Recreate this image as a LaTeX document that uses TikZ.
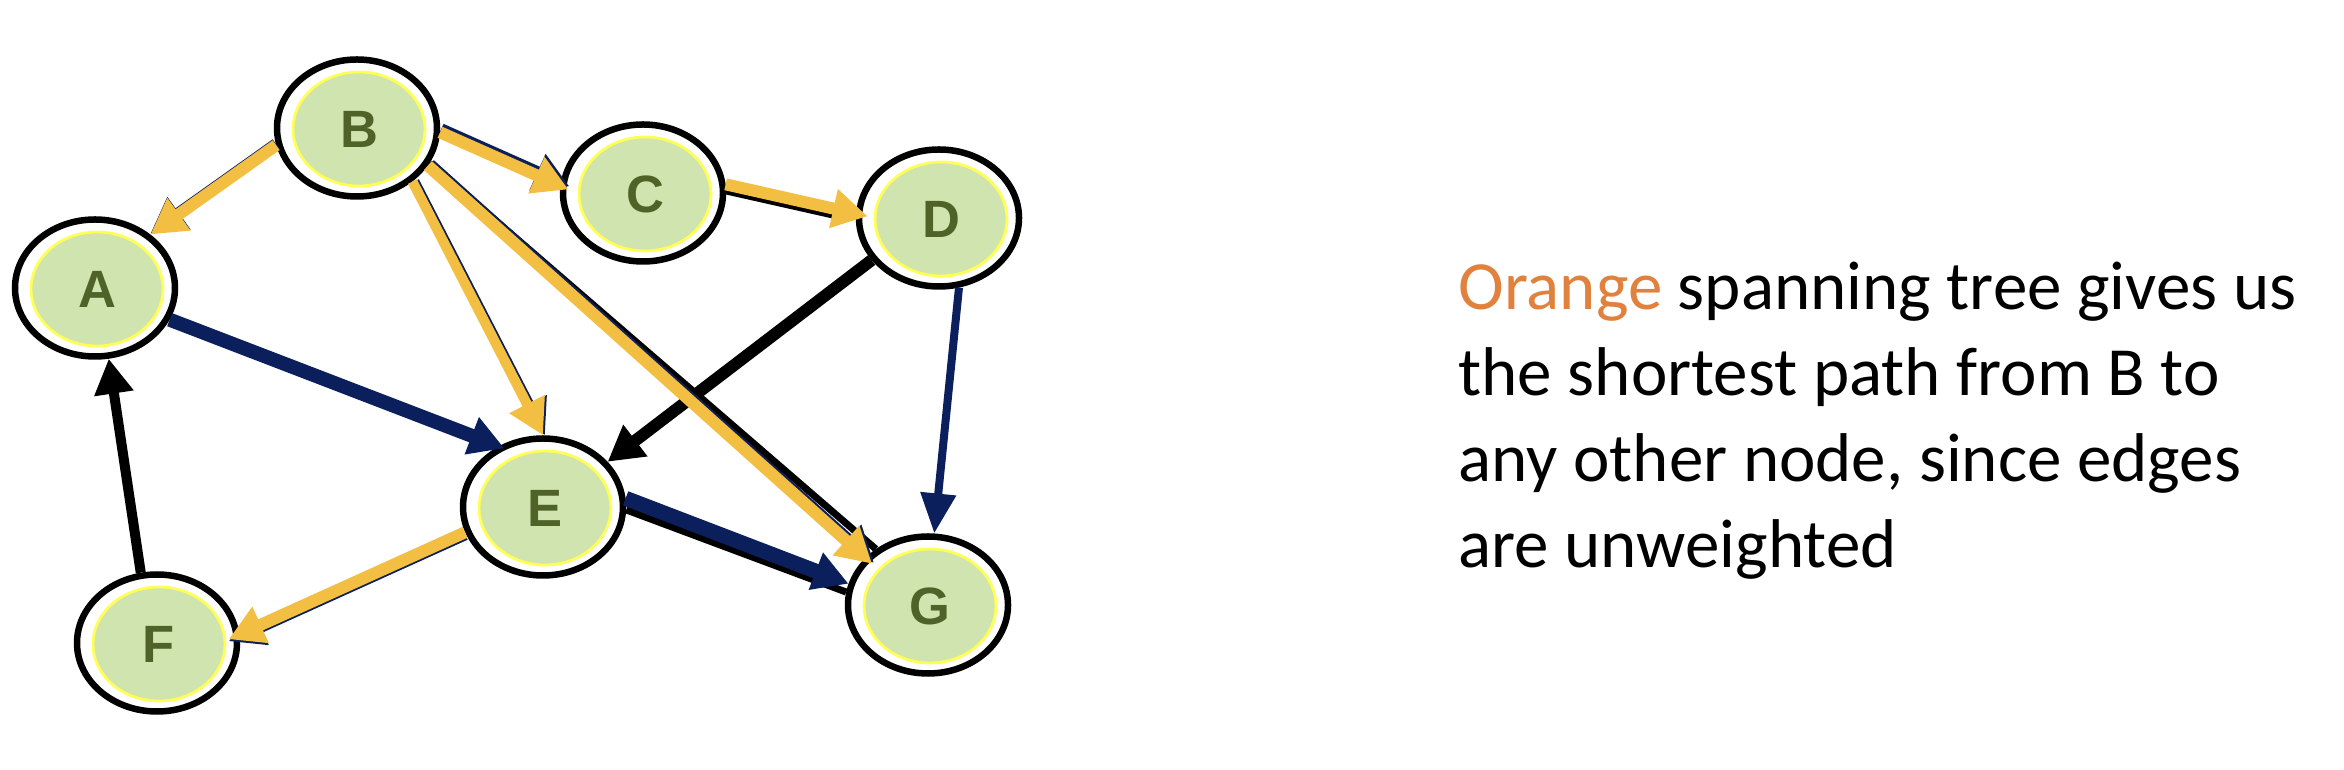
\documentclass[tikz,border=0pt]{standalone}
\usepackage{fontspec}
\setmainfont{Carlito}
\newfontfamily\labfont{Liberation Sans}
\usetikzlibrary{shapes.geometric,arrows.meta}
\definecolor{eorange}{HTML}{F3BF43}
\definecolor{enavy}{HTML}{0A1F5C}
\definecolor{nfill}{HTML}{CFE4AE}
\definecolor{nrim}{HTML}{FFFF55}
\definecolor{nlabel}{HTML}{4F6228}
\definecolor{torange}{HTML}{E0823E}
\begin{document}
\begin{tikzpicture}[x=0.4pt,y=-0.4pt,
  outer/.style={ellipse,draw=black,line width=2.6pt,fill=white,inner sep=0pt,minimum width=64pt,minimum height=54.8pt},
  inner/.style={ellipse,draw=nrim,line width=1.1pt,fill=nfill,inner sep=0pt,minimum width=52.8pt,minimum height=45.6pt,
    font=\labfont\bfseries\fontsize{21}{24}\selectfont,text=nlabel},
  tip/.style={-{Triangle[length=14pt,width=15pt]}},
  oedge/.style={tip,draw=eorange,line width=4.8pt},
  nedge/.style={tip,draw=enavy},
  bedge/.style={tip,draw=black},
  shadow/.style={draw=enavy,line width=4.8pt}
]
\useasboundingbox (0,0) rectangle (2344,770);
% nodes
\foreach \n/\x/\y in {A/95/288,B/357/128,C/643/193,D/939/218,E/543/507,F/157/643,G/928/605}{
  \node[outer] (\n) at (\x,\y) {};
  \node[inner] (\n i) at (\x+2,\y+1) {\n};
}
% underlying / black and navy edges
\draw[draw=black,line width=2.8pt] (B.-26) -- (G.133);
\draw[draw=black,line width=2.8pt] (E.-2) -- (G.171);
\draw[bedge,line width=4pt] (F.103) -- (A.-79);
\draw[bedge,line width=4.8pt] (D.212) -- (E.35.5);
\draw[nedge,line width=3.2pt,-{Triangle[length=16pt,width=13.6pt]}] (D.-74) -- (G.85);
\draw[nedge,line width=5.6pt,shorten >=-2.4pt] (A.-23) -- (E.126);
\draw[nedge,line width=6pt] (E.6) -- (G.165);
% orange spanning tree with thin navy/black shadows
\draw[shadow,tip,transform canvas={shift={(1,-3)}},shorten >=-3.6pt] (B.-3) -- (C.175);
\draw[oedge,shorten >=-3.6pt] (B.-3) -- (C.175);
\draw[shadow,draw=black,line width=4pt,transform canvas={shift={(0,5)}},shorten >=4pt] (C.6) -- (D.177);
\draw[oedge,shorten >=-4.8pt] (C.6) -- (D.177);
\draw[shadow,tip,line width=4pt,transform canvas={shift={(2,0)}}] (B.-44) -- (E.90);
\draw[oedge,line width=4pt] (B.-44) -- (E.90);
\draw[shadow,tip,transform canvas={shift={(2,-1)}},shorten >=-3.6pt] (B.-28) -- (G.143);
\draw[oedge,shorten >=-3.6pt] (B.-28) -- (G.143);
\draw[shadow,tip,transform canvas={shift={(0,2)}},shorten >=-4.8pt] (E.198) -- (F.6);
\draw[oedge,shorten >=-4.8pt] (E.198) -- (F.6);
\draw[shadow,tip,transform canvas={shift={(0,-1)}}] (B.192) -- (A.44);
\draw[oedge] (B.192) -- (A.44);
% text
\node[anchor=north west,align=left,inner sep=0pt,font=\fontsize{27.6}{34.4}\selectfont] (txt) at (1458,262)
  {\textcolor{torange}{Orange} spanning tree gives us\\the shortest path from B to\\any other node, since edges\\are unweighted};
\end{tikzpicture}
\end{document}
